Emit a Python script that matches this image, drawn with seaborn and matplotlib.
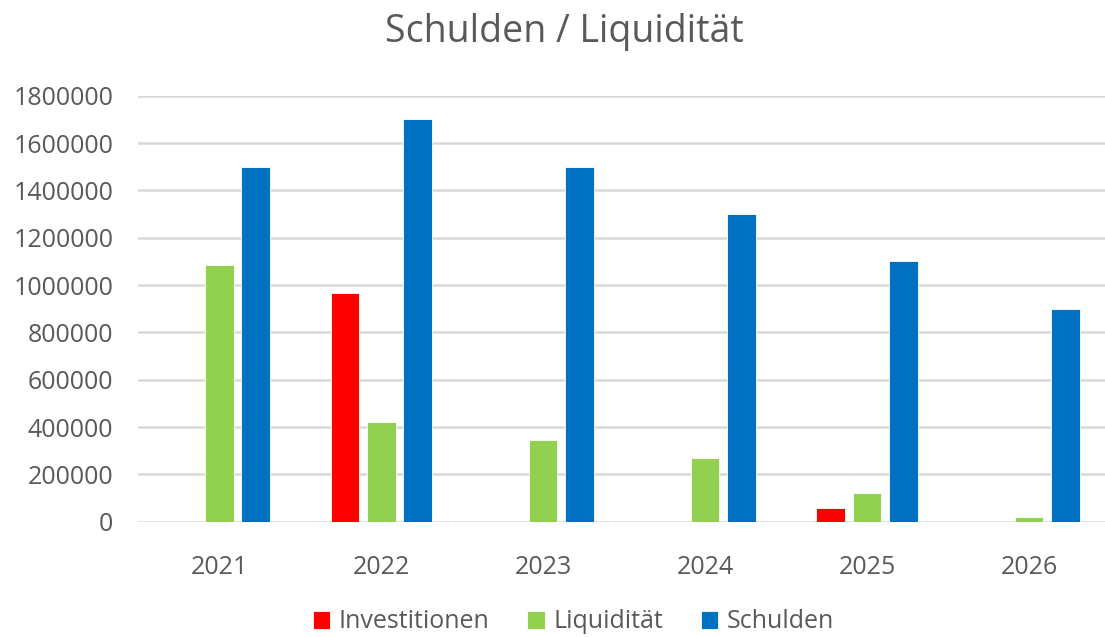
import seaborn as sns
import matplotlib.pyplot as plt
import pandas as pd

# Daten
jahre = ["2021", "2022", "2023", "2024", "2025", "2026"]
investitionen = [0, 965000, 0, 0, 60000, 0]
liquiditaet = [1085000, 420000, 345000, 270000, 120000, 20000]
schulden = [1500000, 1700000, 1500000, 1300000, 1100000, 900000]
reihen = ["Investitionen", "Liquidität", "Schulden"]
farben = ["#FF0000", "#92D050", "#0070C0"]

df = pd.DataFrame({"Jahr": jahre * 3,
                   "Wert": investitionen + liquiditaet + schulden,
                   "Reihe": [r for r in reihen for _ in jahre]})

sns.set_style("white")
plt.rcParams['font.family'] = ['Open Sans', 'DejaVu Sans']
grau = "#595959"

fig = plt.figure(figsize=(11.05, 6.37), dpi=100)
ax = fig.add_axes([138.3 / 1105, (637 - 521.7) / 637, 971.6 / 1105, 426 / 637])

sns.barplot(data=df, x="Jahr", y="Wert", hue="Reihe", palette=farben, saturation=1,
            width=0.673, gap=0.21, edgecolor="white", linewidth=0.6, ax=ax)

ax.set_ylim(0, 1800000)
ax.set_yticks(range(0, 1800001, 200000))
ax.yaxis.set_major_formatter(plt.FuncFormatter(lambda v, p: f"{int(v)}"))
ax.grid(axis="y", color="#D9D9D9", linewidth=1.8)
ax.set_axisbelow(True)
for s in ax.spines.values():
    s.set_visible(False)
ax.tick_params(axis="both", length=0, labelsize=18, colors=grau)
ax.tick_params(axis="x", pad=24)
ax.tick_params(axis="y", pad=18)
ax.set_xlabel("")
ax.set_ylabel("")

fig.text(0.511, 0.95, "Schulden / Liquidität", ha="center", va="center",
         fontsize=27, color=grau)

ax.legend(loc="center", bbox_to_anchor=(0.519, (637 - 622) / 637), bbox_transform=fig.transFigure,
          ncol=3, frameon=False, fontsize=18, labelcolor=grau,
          handlelength=0.7, handleheight=0.7, handletextpad=0.35, columnspacing=1.5)

fig.savefig("out.png", dpi=100)
